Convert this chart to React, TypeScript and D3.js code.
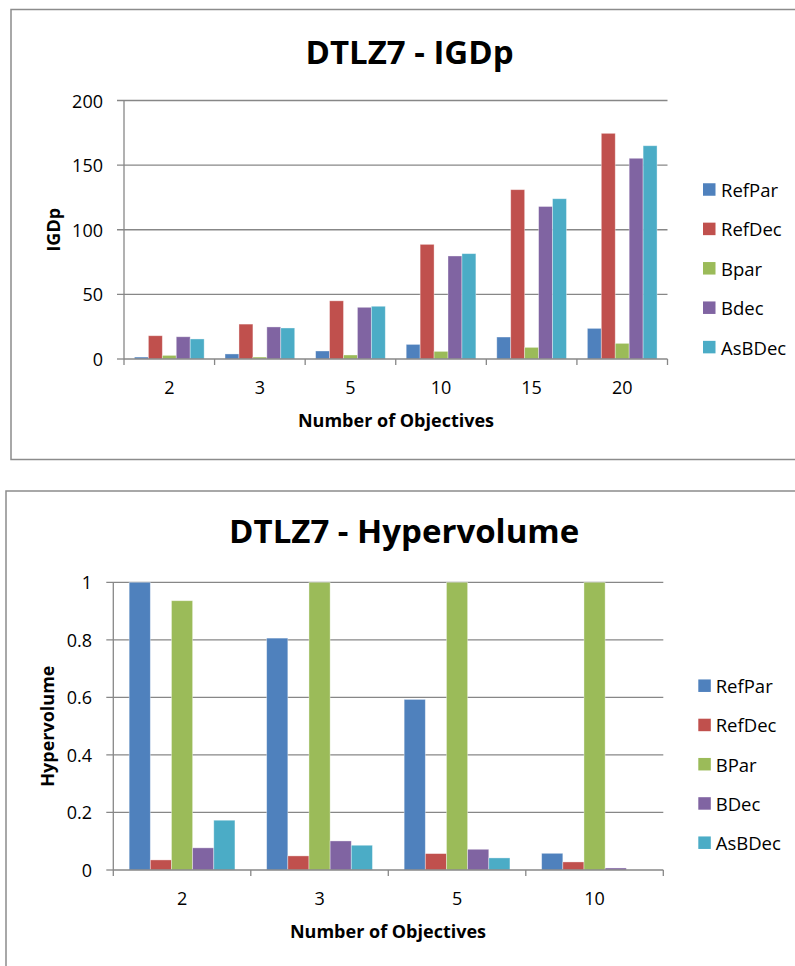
import React from "react";
import * as d3 from "d3";

// IGDp results for DTLZ7
const igdCategories = ["2", "3", "5", "10", "15", "20"];
const igdSeriesNames = ["RefPar", "RefDec", "Bpar", "Bdec", "AsBDec"];
const igdRefPar = [1.5, 3.9, 6.2, 11.3, 17, 23.7];
const igdRefDec = [18, 27, 45, 88.7, 131, 174.6];
const igdBpar = [2.8, 1.5, 3.1, 5.9, 9, 12.1];
const igdBdec = [17.2, 24.8, 40, 79.7, 118, 155.3];
const igdAsBDec = [15.5, 24, 40.8, 81.5, 124, 165];
const igdTicks = [0, 50, 100, 150, 200];

// Hypervolume results for DTLZ7
const hvCategories = ["2", "3", "5", "10"];
const hvSeriesNames = ["RefPar", "RefDec", "BPar", "BDec", "AsBDec"];
const hvRefPar = [1.0, 0.806, 0.593, 0.058];
const hvRefDec = [0.035, 0.049, 0.057, 0.028];
const hvBPar = [0.936, 1.0, 1.0, 1.0];
const hvBDec = [0.077, 0.101, 0.072, 0.007];
const hvAsBDec = [0.173, 0.086, 0.042, 0];
const hvTicks = [0, 0.2, 0.4, 0.6, 0.8, 1];

const COLORS = ["#4F81BD", "#C0504D", "#9BBB59", "#8064A2", "#4BACC6"];
const FONT = "'Open Sans', sans-serif";
const GRID = "#878787";

type ChartProps = {
  frame: { x: number; y: number; w: number; h: number };
  plot: { x0: number; x1: number; yTop: number; y0: number };
  title: string;
  titleX: number;
  titleY: number;
  yTitle: string;
  yTitleX: number;
  yLabelX: number;
  xLabelY: number;
  xTitleX: number;
  xTitleY: number;
  categories: string[];
  seriesNames: string[];
  series: number[][];
  ticks: number[];
  tickFormat: (v: number) => string;
  legend: { swatchX: number; textX: number; y0: number; dy: number };
};

function BarChart(p: ChartProps) {
  const { plot } = p;
  const max = p.ticks[p.ticks.length - 1];
  const y = d3.scaleLinear().domain([0, max]).range([p.plot.y0, p.plot.yTop]);
  const gap = 1.5 / 6.5;
  const x = d3
    .scaleBand<string>()
    .domain(p.categories)
    .range([plot.x0, plot.x1])
    .paddingInner(gap)
    .paddingOuter(gap / 2);
  const inner = d3
    .scaleBand<string>()
    .domain(p.seriesNames)
    .range([0, x.bandwidth()]);
  const step = x.step();
  const boundaries = d3.range(p.categories.length + 1).map((i) => plot.x0 + i * step);

  return (
    <g>
      <rect
        x={p.frame.x}
        y={p.frame.y}
        width={p.frame.w}
        height={p.frame.h}
        fill="#fff"
        stroke="#8c8c8c"
        strokeWidth={1.5}
      />
      <text
        x={p.titleX}
        y={p.titleY}
        textAnchor="middle"
        fontFamily={FONT}
        fontWeight="bold"
        fontSize={33}
        fill="#000"
      >
        {p.title}
      </text>
      {/* gridlines and y ticks */}
      {p.ticks.map((t) => (
        <g key={t}>
          <line
            x1={plot.x0 - 7}
            x2={t === 0 ? plot.x0 : plot.x1}
            y1={y(t)}
            y2={y(t)}
            stroke={GRID}
            strokeWidth={1.3}
          />
          <text
            x={p.yLabelX}
            y={y(t)}
            textAnchor="end"
            dominantBaseline="central"
            fontFamily={FONT}
            fontSize={18}
            fill="#000"
          >
            {p.tickFormat(t)}
          </text>
        </g>
      ))}
      {/* bars */}
      {p.series.map((vals, si) =>
        vals.map((v, ci) => {
          const bx = (x(p.categories[ci]) ?? 0) + (inner(p.seriesNames[si]) ?? 0);
          const top = y(v);
          return (
            <rect
              key={`${si}-${ci}`}
              x={bx}
              y={top}
              width={inner.bandwidth()}
              height={Math.max(0, y(0) - top)}
              fill={COLORS[si]}
              stroke="#ffffff"
              strokeOpacity={0.45}
              strokeWidth={0.8}
            />
          );
        })
      )}
      {/* axes */}
      <line x1={plot.x0} x2={plot.x0} y1={plot.yTop} y2={plot.y0} stroke={GRID} strokeWidth={1.3} />
      <line x1={plot.x0} x2={plot.x1} y1={plot.y0} y2={plot.y0} stroke={GRID} strokeWidth={1.3} />
      {boundaries.map((bx, i) => (
        <line key={i} x1={bx} x2={bx} y1={plot.y0} y2={plot.y0 + 6} stroke={GRID} strokeWidth={1.3} />
      ))}
      {p.categories.map((c) => (
        <text
          key={c}
          x={(x(c) ?? 0) + x.bandwidth() / 2}
          y={p.xLabelY}
          textAnchor="middle"
          dominantBaseline="central"
          fontFamily={FONT}
          fontSize={18}
          fill="#000"
        >
          {c}
        </text>
      ))}
      <text
        x={p.xTitleX}
        y={p.xTitleY}
        textAnchor="middle"
        fontFamily={FONT}
        fontWeight="bold"
        fontSize={18}
        fill="#000"
      >
        Number of Objectives
      </text>
      <text
        transform={`translate(${p.yTitleX},${(plot.yTop + plot.y0) / 2}) rotate(-90)`}
        textAnchor="middle"
        dominantBaseline="central"
        fontFamily={FONT}
        fontWeight="bold"
        fontSize={18}
        fill="#000"
      >
        {p.yTitle}
      </text>
      {/* legend */}
      {p.seriesNames.map((n, i) => {
        const cy = p.legend.y0 + i * p.legend.dy;
        return (
          <g key={n}>
            <rect x={p.legend.swatchX} y={cy - 6.25} width={12.5} height={12.5} fill={COLORS[i]} />
            <text
              x={p.legend.textX}
              y={cy}
              dominantBaseline="central"
              fontFamily={FONT}
              fontSize={18.5}
              fill="#000"
            >
              {n}
            </text>
          </g>
        );
      })}
    </g>
  );
}

export default function App() {
  return (
    <svg
      width={795}
      height={966}
      style={{ position: "absolute", left: 0, top: 0, display: "block" }}
    >
      <rect width={795} height={966} fill="#fff" />
      <BarChart
        frame={{ x: 11, y: 9.5, w: 800, h: 450 }}
        plot={{ x0: 124, x1: 667.5, yTop: 100.5, y0: 359 }}
        title="DTLZ7 - IGDp"
        titleX={409.5}
        titleY={63.5}
        yTitle="IGDp"
        yTitleX={53}
        yLabelX={103}
        xLabelY={386.7}
        xTitleX={396}
        xTitleY={426.7}
        categories={igdCategories}
        seriesNames={igdSeriesNames}
        series={[igdRefPar, igdRefDec, igdBpar, igdBdec, igdAsBDec]}
        ticks={igdTicks}
        tickFormat={(v) => String(v)}
        legend={{ swatchX: 703, textX: 721, y0: 189.5, dy: 39.4 }}
      />
      <BarChart
        frame={{ x: 6, y: 491, w: 800, h: 480 }}
        plot={{ x0: 113.3, x1: 663.3, yTop: 582.3, y0: 870 }}
        title="DTLZ7 - Hypervolume"
        titleX={404.2}
        titleY={543}
        yTitle="Hypervolume"
        yTitleX={46.7}
        yLabelX={92}
        xLabelY={898}
        xTitleX={388}
        xTitleY={938}
        categories={hvCategories}
        seriesNames={hvSeriesNames}
        series={[hvRefPar, hvRefDec, hvBPar, hvBDec, hvAsBDec]}
        ticks={hvTicks}
        tickFormat={(v) => String(v)}
        legend={{ swatchX: 698.3, textX: 715.7, y0: 685.7, dy: 39.25 }}
      />
    </svg>
  );
}
